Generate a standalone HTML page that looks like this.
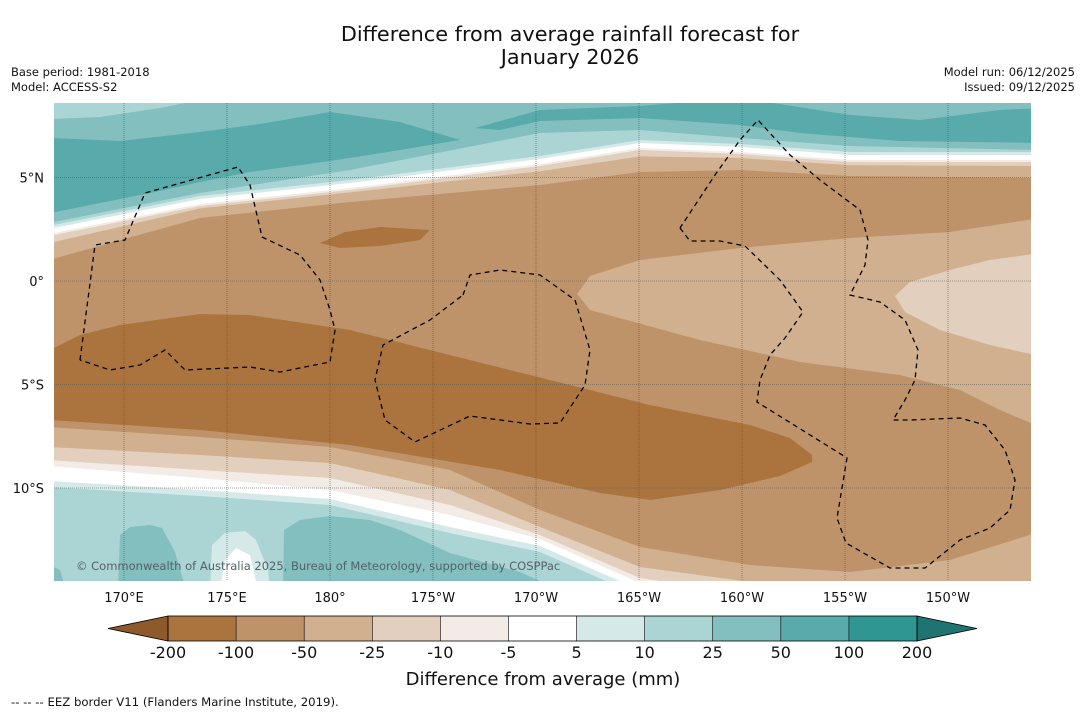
<!DOCTYPE html>
<html><head><meta charset="utf-8"><style>
body{margin:0;background:#fff;width:1085px;height:713px;overflow:hidden;font-family:"DejaVu Sans","Liberation Sans",sans-serif}
svg{position:absolute;left:0;top:0;font-family:"DejaVu Sans","Liberation Sans",sans-serif}
</style></head><body>
<svg id="s" width="1085" height="713" viewBox="0 0 1085 713"></svg>
<script>
const levelLabels=["-200","-100","-50","-25","-10","-5","5","10","25","50","100","200"];
const bandColors=["#ab743f","#bf9369","#d1b08f","#e3cfbe","#f2ebe6","#ffffff","#d5eae8","#abd5d5","#83bfbf","#58aaab","#2f9692"];
const extendColors=["#8e5a2c","#1f7371"];
const lonLabels=["170°E","175°E","180°","175°W","170°W","165°W","160°W","155°W","150°W"];
const lonValues=[170,175,180,185,190,195,200,205,210];
const latLabels=["5°N","0°","5°S","10°S"];
const latValues=[5,0,-5,-10];

const NS="http://www.w3.org/2000/svg";
const svg=document.getElementById('s');
function el(tag,attrs,parent){const e=document.createElementNS(NS,tag);for(const k in attrs)e.setAttribute(k,attrs[k]);(parent||svg).appendChild(e);return e;}
const X0=54,X1=1031,Y0=103,Y1=581;
const lonX=v=>124+(v-170)*20.6;
const latY=v=>281-v*20.7;

let t=el('text',{x:570,y:41,'text-anchor':'middle','font-size':20.8,fill:'#111'});t.textContent='Difference from average rainfall forecast for';

t=el('text',{x:570,y:64,'text-anchor':'middle','font-size':20.8,fill:'#111'});t.textContent='January 2026';

[["Base period: 1981-2018",11,76,'start','base-period'],["Model: ACCESS-S2",11,91,'start','model-name'],["Model run: 06/12/2025",1075,76,'end','model-run'],["Issued: 09/12/2025",1075,91,'end','issued-date']].forEach(a=>{
 const e=el('text',{x:a[1],y:a[2],'text-anchor':a[3],'font-size':11.5,fill:'#111'});e.textContent=a[0];
 });

const map=el('g',{'clip-path':'url(#clip)'});

const defs=el('defs',{});const cp=el('clipPath',{id:'clip'},defs);el('rect',{x:X0,y:Y0,width:X1-X0,height:Y1-Y0},cp);

function pts(a){return a.map(p=>p[0]+','+p[1]).join(' ');}
function poly(a,fill,name){const e=el('polygon',{points:pts(a),fill:fill},map);return e;}
function line(xs,ys){return xs.map((x,i)=>[x,ys[i]]);}
function above(xs,ys,fill,name){poly([[X0-5,Y0-5],...line(xs,ys),[X1+5,Y0-5]],fill,name);}
function below(xs,ys,fill,name){poly([[X0-5,Y1+10],...line(xs,ys),[X1+5,Y1+10]],fill,name);}

el('rect',{x:X0,y:Y0,width:X1-X0,height:Y1-Y0,fill:bandColors[1]},map);

const TX=[X0-5,200,350,540,640,740,850,X1+5];
const W=[232,202,186,162,146,150,158,158];
const M=[260,218,202,185,172,170,176,178];
const B25=[223,193,170,133,130,138,146,150];
above(TX,M,bandColors[2],'band-minus50-north');
above(TX,M.map((m,i)=>m-0.6*(m-W[i])),bandColors[3],'band-minus25-north');
above(TX,W.map(w=>w+4),bandColors[4],'band-minus10-north');
above(TX,W.map(w=>w+2),bandColors[5],'band-minus5-north');
above(TX,W.map(w=>w-3),bandColors[6],'band-5-north');
above(TX,W.map(w=>w-6),bandColors[7],'band-10-north');
above(TX,B25,bandColors[8],'band-25-north');
poly([[50,100],[200,100],[160,108],[100,117],[50,119]],bandColors[7],'band-10-corner');
poly([[50,138],[120,141],[200,132],[260,124],[330,112],[400,122],[460,140],[400,150],[330,161],[250,172],[200,182],[150,193],[50,213]],bandColors[9],'band-50-west');
poly([[475,128],[540,110],[640,106],[700,101],[760,101],[850,115],[920,120],[1000,110],[1040,108],[1040,143],[900,141],[800,133],[740,125],[640,118],[540,121],[500,130]],bandColors[9],'band-50-east');

poly([[1040,218],[950,232],[850,238],[740,248],[640,260],[590,276],[577,294],[590,310],[700,340],[800,362],[900,375],[960,390],[1000,410],[1040,427]],bandColors[2],'band-minus50-east');
poly([[1040,253],[990,260],[950,270],[910,282],[895,296],[905,312],[940,330],[990,345],[1040,356]],bandColors[3],'band-minus25-east');

poly([[50,350],[80,335],[120,325],[200,314],[250,315],[350,330],[450,355],[550,380],[650,405],[750,425],[790,438],[812,455],[812,462],[780,476],[720,490],[650,500],[600,493],[500,470],[350,445],[200,430],[50,420]],bandColors[0],'band-minus200-main');
poly([[320,243],[345,232],[380,227],[430,230],[420,240],[380,246],[340,248]],bandColors[0],'band-minus200-north');

const BX=[X0-5,200,330,450,540,640,750,850,950,X1+5];
below(BX,[427,437,447,470,510,547,565,572,560,533],bandColors[2],'band-minus50-south');
below(BX,[447,455,463,490,527,567,582,595,595,595],bandColors[3],'band-minus25-south');
below(BX,[460,470,478,505,535,578,595,600,600,600],bandColors[4],'band-minus10-south');
below(BX,[466,478,490,515,539,583,600,600,600,600],bandColors[5],'band-minus5-south');
below(BX,[481,490,499,527,546,590,605,605,605,605],bandColors[6],'band-5-south');
below(BX,[487,496,505,533,552,596,610,610,610,610],bandColors[7],'band-10-south');
poly([[118,590],[120,535],[130,527],[150,525],[162,528],[175,552],[186,590]],bandColors[8],'band-25-blob-a');
poly([[283,590],[284,530],[300,520],[330,516],[370,520],[400,530],[450,553],[520,572],[560,590]],bandColors[8],'band-25-blob-b');
poly([[50,565],[60,570],[66,590],[50,590]],bandColors[8],'band-25-blob-c');
poly([[210,590],[212,545],[225,533],[245,531],[256,540],[268,570],[270,590]],bandColors[6],'band-5-blob');
poly([[220,590],[225,560],[236,548],[250,555],[258,590]],bandColors[5],'band-minus5-blob');

lonValues.forEach((v,i)=>{const x=lonX(v);
 const g=el('line',{x1:x,y1:Y0,x2:x,y2:Y1,stroke:'#555','stroke-width':0.6,'stroke-dasharray':'1,1'},map);
 
 const l=el('text',{x:x,y:602,'text-anchor':'middle','font-size':13,fill:'#111'});l.textContent=lonLabels[i];
 });
latValues.forEach((v,i)=>{const y=latY(v);
 const g=el('line',{x1:X0,y1:y,x2:X1,y2:y,stroke:'#555','stroke-width':0.6,'stroke-dasharray':'1,1'},map);
 
 const l=el('text',{x:44,y:y+5,'text-anchor':'end','font-size':13,fill:'#111'});l.textContent=latLabels[i];
 });

const eez=[
[[80,360],[95,245],[125,240],[145,193],[238,167],[250,185],[262,237],[300,255],[320,280],[330,310],[335,330],[330,362],[280,372],[250,367],[185,370],[165,350],[140,365],[110,370],[80,360]],
[[463,295],[470,275],[500,270],[540,275],[575,300],[590,350],[585,385],[560,423],[530,424],[470,416],[415,442],[385,420],[375,380],[383,345],[430,320],[463,295]],
[[680,228],[690,241],[720,241],[745,246],[780,280],[803,312],[785,338],[770,355],[760,380],[757,402],[847,458],[837,518],[846,543],[890,568],[925,568],[960,540],[990,528],[1010,510],[1015,480],[1005,450],[985,425],[960,418],[910,420],[893,420],[905,400],[915,380],[918,350],[905,320],[880,302],[850,295],[865,265],[868,240],[860,210],[820,180],[790,155],[758,120],[740,140],[715,175],[680,228]]];
eez.forEach(p=>{const e=el('polyline',{points:pts(p),fill:'none',stroke:'#000','stroke-width':1.3,'stroke-dasharray':'5,4'},map);
 });

t=el('text',{x:76,y:570,'font-size':11.5,fill:'#55606a'});t.textContent='© Commonwealth of Australia 2025, Bureau of Meteorology, supported by COSPPac';


const cbX0=168,cbX1=917,cbY=616,cbH=25,bw=(cbX1-cbX0)/bandColors.length;
const cb=el('g',{});
let tri=el('polygon',{points:`${cbX0},${cbY} 108,${cbY+cbH/2} ${cbX0},${cbY+cbH}`,fill:extendColors[0],stroke:'#000','stroke-width':0.8},cb);

tri=el('polygon',{points:`${cbX1},${cbY} 977,${cbY+cbH/2} ${cbX1},${cbY+cbH}`,fill:extendColors[1],stroke:'#000','stroke-width':0.8},cb);

bandColors.forEach((c,i)=>{const r=el('rect',{x:cbX0+i*bw,y:cbY,width:bw,height:cbH,fill:c},cb);
 });
el('rect',{x:cbX0,y:cbY,width:cbX1-cbX0,height:cbH,fill:'none',stroke:'#000','stroke-width':0.8},cb);
levelLabels.forEach((s,i)=>{const x=cbX0+i*bw;
 el('line',{x1:x,y1:cbY,x2:x,y2:cbY+cbH,stroke:'#000','stroke-width':0.6},cb);
 const l=el('text',{x:x,y:658,'text-anchor':'middle','font-size':16,fill:'#111'});l.textContent=s;
 });
t=el('text',{x:543,y:685,'text-anchor':'middle','font-size':18,fill:'#111'});t.textContent='Difference from average (mm)';

t=el('text',{x:11,y:706,'font-size':11.7,fill:'#111'});t.textContent='--  --  -- EEZ border V11 (Flanders Marine Institute, 2019).';

</script>
</body></html>
